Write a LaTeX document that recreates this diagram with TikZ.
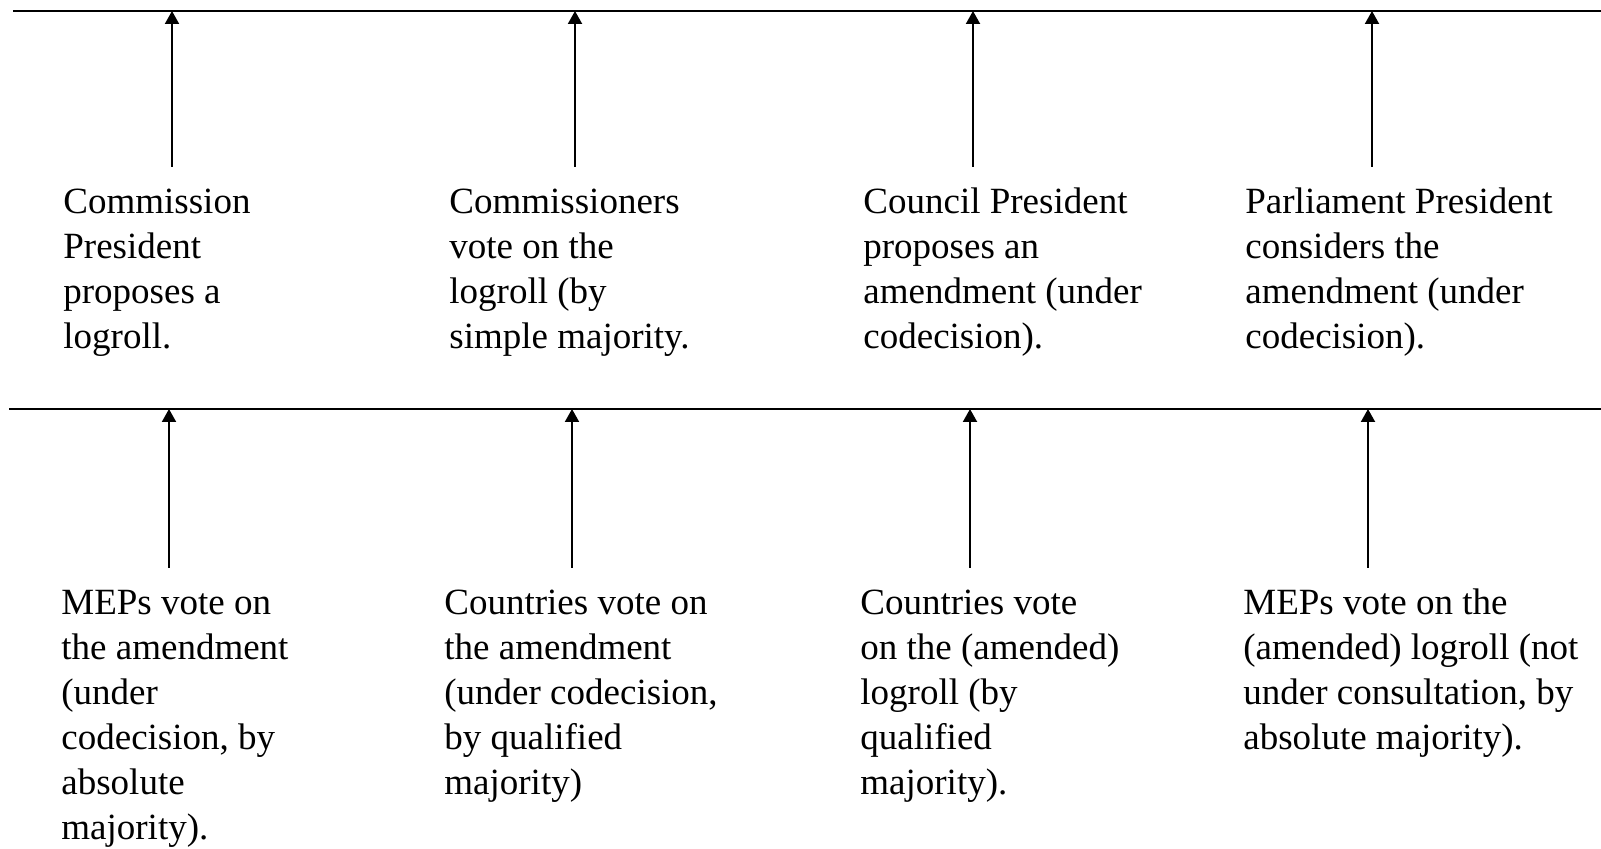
\documentclass[tikz,border=0pt]{standalone}
\usepackage{fontspec}
\setmainfont{Liberation Serif}
\usetikzlibrary{arrows.meta}
\newcommand{\stagelines}[1]{\begin{tabular}[t]{@{}l@{}}#1\end{tabular}}
\begin{document}
\begin{tikzpicture}[x=0.5pt,y=-0.5pt,
  timeline/.style={line width=1.2pt},
  upflow/.style={line width=1pt,-{Triangle[length=6.5pt,width=7pt]}},
  stagetext/.style={anchor=base west,inner sep=0pt,
    font=\fontsize{18.5}{22.5}\selectfont}]
\useasboundingbox[fill=white] (0,0) rectangle (1601,849);
% timelines
\coordinate (L1a) at (13,11);  \coordinate (L1b) at (1601,11);
\coordinate (L2a) at (9,409);  \coordinate (L2b) at (1601,409);
\draw[timeline] (L1a) -- (L1b);
\draw[timeline] (L2a) -- (L2b);
% top arrows
\foreach \n/\x in {1/172,2/575,3/973,4/1372}{
  \coordinate (tt\n) at (\x,11);
  \coordinate (ts\n) at (\x,167);
  \draw[upflow] (ts\n) -- (tt\n);
}
% bottom arrows
\foreach \n/\x in {1/169,2/572,3/970,4/1368}{
  \coordinate (bt\n) at (\x,409);
  \coordinate (bs\n) at (\x,568);
  \draw[upflow] (bs\n) -- (bt\n);
}
% top texts
\node[stagetext] (top1) at (63,214) {\stagelines{Commission\\President\\proposes a\\logroll.}};
\node[stagetext] (top2) at (449,214) {\stagelines{Commissioners\\vote on the\\logroll (by\\simple majority.}};
\node[stagetext] (top3) at (863,214) {\stagelines{Council President\\proposes an\\amendment (under\\codecision).}};
\node[stagetext] (top4) at (1245,214) {\stagelines{Parliament President\\considers the\\amendment (under\\codecision).}};
% bottom texts
\node[stagetext] (bot1) at (61,615) {\stagelines{MEPs vote on\\the amendment\\(under\\codecision, by\\absolute\\majority).}};
\node[stagetext] (bot2) at (444,615) {\stagelines{Countries vote on\\the amendment\\(under codecision,\\by qualified\\majority)}};
\node[stagetext] (bot3) at (860,615) {\stagelines{Countries vote\\on the (amended)\\logroll (by\\qualified\\majority).}};
\node[stagetext] (bot4) at (1243,615) {\stagelines{MEPs vote on the\\(amended) logroll (not\\under consultation, by\\absolute majority).}};
\end{tikzpicture}
\end{document}
